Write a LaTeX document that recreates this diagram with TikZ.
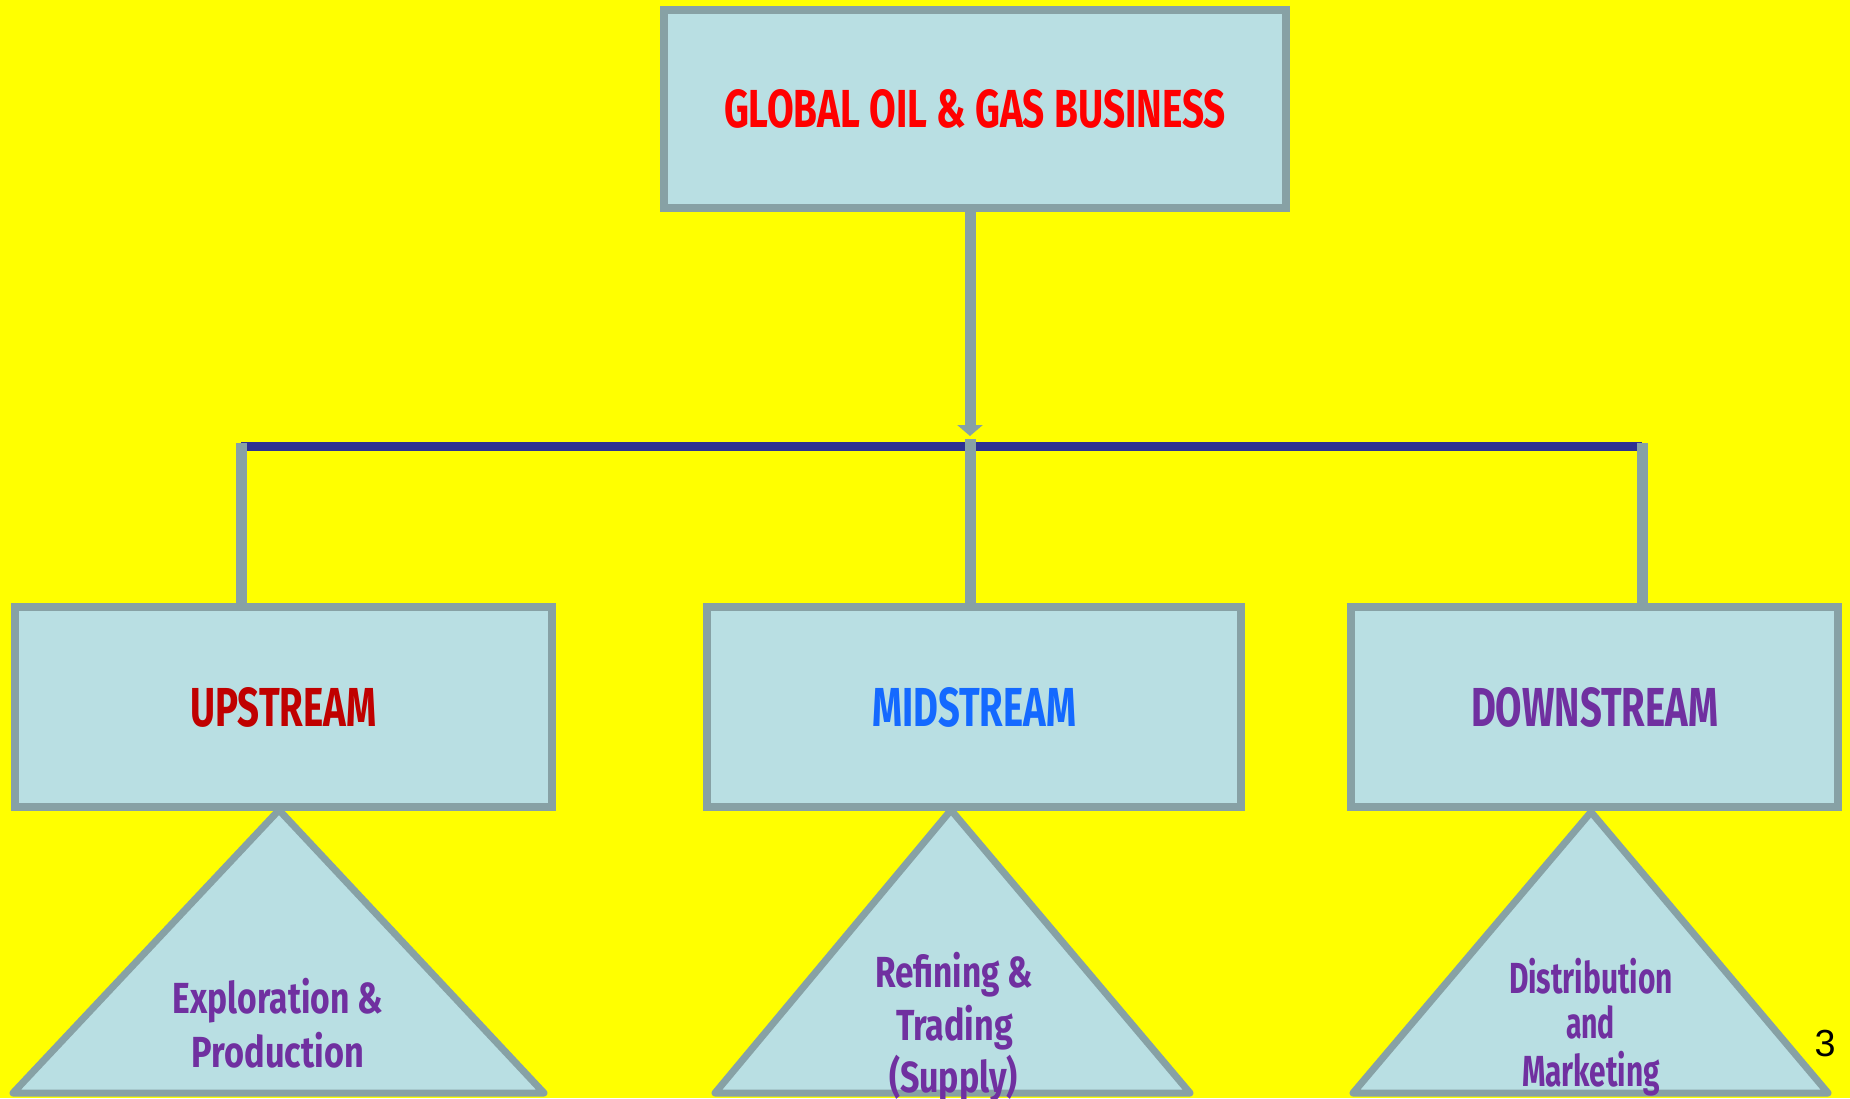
\documentclass[tikz,border=0pt]{standalone}
\usepackage{fontspec}
\setmainfont{Fira Sans}
\newfontfamily\numfont{Liberation Sans}
\usetikzlibrary{arrows.meta}

\definecolor{bgyellow}{HTML}{FFFF00}
\definecolor{boxfill}{RGB}{185,223,227}
\definecolor{edgegray}{RGB}{135,161,165}
\definecolor{barblue}{RGB}{46,49,146}
\definecolor{titlered}{HTML}{FF0000}
\definecolor{upred}{HTML}{C00000}
\definecolor{midblue}{HTML}{1469FF}
\definecolor{dpurple}{HTML}{7030A0}

\begin{document}
\begin{tikzpicture}[x=1pt,y=-1pt,
  box/.style={draw=edgegray, fill=boxfill, line width=8pt, inner sep=0pt,
    font=\bfseries\fontsize{55}{60}\selectfont},
  tri/.style={draw=edgegray, fill=boxfill, line width=7pt, line join=round},
  tline/.style={anchor=base, inner sep=0pt, text=dpurple,
    font=\bfseries\fontsize{43.5}{50}\selectfont},
  link/.style={draw=edgegray, line width=11pt},
  bar/.style={draw=barblue, line width=9pt}]

% background and page size
\fill[bgyellow] (0,0) rectangle (1850,1098);
\useasboundingbox (0,0) rectangle (1850,1098);

% triangles under the three sector boxes
\draw[tri] (279,810) -- (544,1093) -- (13,1093) -- cycle;
\draw[tri] (951,810) -- (1190,1093) -- (715,1093) -- cycle;
\draw[tri] (1591,812) -- (1828,1093) -- (1353,1093) -- cycle;

% boxes
\node[box, minimum width=622pt, minimum height=198pt, text=titlered]
  (global) at (975,109) {\resizebox{502pt}{38pt}{GLOBAL OIL \& GAS BUSINESS}};
\node[box, minimum width=537pt, minimum height=200pt, text=upred]
  (up) at (283.5,707) {\resizebox{186pt}{39pt}{UPSTREAM}};
\node[box, minimum width=534pt, minimum height=200pt, text=midblue]
  (mid) at (974,707) {\resizebox{204pt}{39pt}{MIDSTREAM}};
\node[box, minimum width=487pt, minimum height=200pt, text=dpurple]
  (down) at (1594.5,707) {\resizebox{247pt}{39pt}{DOWNSTREAM}};

% triangle labels
\node[tline] (ep1) at (278,1013) {\resizebox{210pt}{\height}{Exploration \&}};
\node[tline] (ep2) at (278,1067) {\resizebox{172pt}{\height}{Production}};
\node[tline] (rt1) at (954,987)  {\resizebox{158pt}{\height}{Refining \&}};
\node[tline] (rt2) at (954.5,1040) {\resizebox{117pt}{\height}{Trading}};
\node[tline] (rt3) at (953.5,1092) {\resizebox{129pt}{\height}{(Supply)}};
\node[tline] (dm1) at (1591,993)  {\resizebox{164pt}{\height}{Distribution}};
\node[tline] (dm2) at (1590.5,1038.5) {\resizebox{49pt}{\height}{and}};
\node[tline] (dm3) at (1591,1086) {\resizebox{138pt}{\height}{Marketing}};

% page number
\node[inner sep=0pt, font=\numfont\fontsize{37.7}{40}\selectfont] (pagenum) at (1825,1043.5) {3};

% connectors
\coordinate (hub) at (970,436);
\coordinate (bl) at (241,446.5);
\coordinate (br) at (1642,446.5);

\draw[link, -{Triangle[width=25pt,length=11pt]}] (hub |- global.south) -- (hub);
\draw[bar] (bl) -- (br);
\draw[link] ([yshift=3.5pt]bl) -- (bl |- up.north);
\draw[link] ([yshift=-3pt]hub) -- (hub |- mid.north);
\draw[link] ([yshift=3.5pt]br) -- (br |- down.north);
\end{tikzpicture}
\end{document}
